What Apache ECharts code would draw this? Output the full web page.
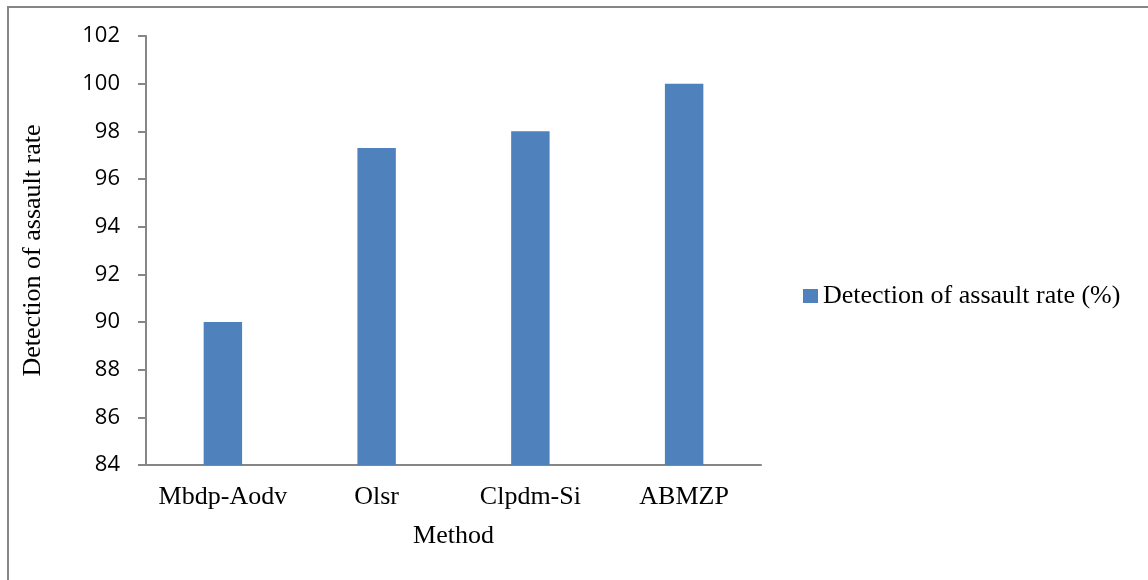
<!DOCTYPE html>
<html><head><meta charset="utf-8">
<script src="https://cdn.jsdelivr.net/npm/echarts@6/dist/echarts.min.js"></script>
<style>html,body{margin:0;padding:0;background:#fff}#c{width:1148px;height:580px}</style>
</head><body><div id="c"></div>
<script>
const categories = ['Mbdp-Aodv', 'Olsr', 'Clpdm-Si', 'ABMZP'];
const seriesName = 'Detection of assault rate (%)';
const values = [90, 97.3, 98, 100];
const yTicks = {min: 84, max: 102, interval: 2};

const chart = echarts.init(document.getElementById('c'), null, {renderer: 'canvas'});
chart.setOption({
  animation: false,
  backgroundColor: '#fff',
  graphic: [
    {type: 'line', shape: {x1: 7.5, y1: 7, x2: 1148, y2: 7}, style: {stroke: '#868686', lineWidth: 2}},
    {type: 'line', shape: {x1: 8, y1: 6, x2: 8, y2: 580}, style: {stroke: '#868686', lineWidth: 2}}
  ],
  grid: {left: 146, right: 387, top: 36, bottom: 115, containLabel: false},
  legend: {
    data: [seriesName], left: 798, top: 278, orient: 'vertical',
    itemWidth: 15, itemHeight: 14, itemGap: 6, icon: 'rect',
    textStyle: {fontFamily: 'Liberation Serif', fontSize: 26, color: '#000'}
  },
  xAxis: {
    type: 'category', data: categories,
    name: 'Method', nameLocation: 'middle', nameGap: 58,
    nameTextStyle: {fontFamily: 'Liberation Serif', fontSize: 26, color: '#000'},
    axisLine: {lineStyle: {color: '#868686', width: 2}},
    axisTick: {show: false},
    axisLabel: {fontFamily: 'Liberation Serif', fontSize: 26, color: '#000', margin: 19, interval: 0}
  },
  yAxis: {
    type: 'value', min: yTicks.min, max: yTicks.max, interval: yTicks.interval,
    name: 'Detection of assault rate', nameLocation: 'middle', nameGap: 100, nameRotate: 90,
    nameTextStyle: {fontFamily: 'Liberation Serif', fontSize: 26, color: '#000'},
    axisLine: {show: true, lineStyle: {color: '#868686', width: 2}},
    axisTick: {show: true, length: 8, lineStyle: {color: '#868686', width: 2}},
    splitLine: {show: false},
    axisLabel: {fontFamily: 'Open Sans', fontSize: 22, color: '#000', margin: 26}
  },
  series: [{
    name: seriesName, type: 'bar', data: values, barWidth: '25%',
    itemStyle: {color: '#4F81BD'}
  }]
});
</script></body></html>
